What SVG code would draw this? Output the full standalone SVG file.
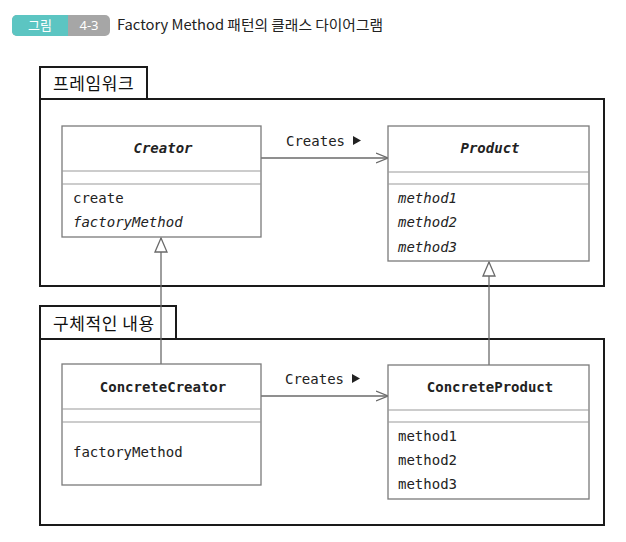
<svg xmlns="http://www.w3.org/2000/svg" width="626" height="542" viewBox="0 0 626 542">
<style>
.pkg{fill:none;stroke:#1a1a1a;stroke-width:2}
.cls{fill:#fff;stroke:#7a7a7a;stroke-width:1.3}
.sep{stroke:#9a9a9a;stroke-width:1.2}
.mono{font-family:"DejaVu Sans Mono",monospace;font-size:14px;fill:#222}
.name{font-weight:bold;text-anchor:middle}
.it{font-style:italic}
.kr{font-family:"Noto Sans CJK KR","Noto Sans",sans-serif;font-size:17px;fill:#111;letter-spacing:0.6px}
.conn{fill:none;stroke:#6a6a6a;stroke-width:1.3}
</style>
<defs>
<marker id="open" viewBox="0 0 12 12" refX="12" refY="6" markerWidth="12" markerHeight="12" markerUnits="userSpaceOnUse" orient="auto">
<path d="M0,1 L12,6 L0,11" fill="none" stroke="#6a6a6a" stroke-width="1.3"/>
</marker>
<marker id="tri" viewBox="0 0 16 14" refX="15" refY="7" markerWidth="16" markerHeight="14" markerUnits="userSpaceOnUse" orient="auto">
<path d="M1,1 L15,7 L1,13 Z" fill="#fff" stroke="#6a6a6a" stroke-width="1.3"/>
</marker>
</defs>
<rect width="626" height="542" fill="#fff"/>
<g id="header">
<rect x="12" y="15" width="98" height="21" rx="5" fill="#a6a6a6"/>
<path d="M17,15 H68 V36 H17 A5,5 0 0 1 12,31 V20 A5,5 0 0 1 17,15 Z" fill="#5cc5c2"/>
<text x="40" y="30" font-family="Noto Sans CJK KR,sans-serif" font-size="13" fill="#fff" text-anchor="middle">그림</text>
<text x="89" y="30" font-family="Noto Sans,sans-serif" font-size="13" fill="#fff" text-anchor="middle">4-3</text>
<text x="117" y="30" font-family="Noto Sans CJK KR,sans-serif" font-size="14" fill="#222" textLength="266" lengthAdjust="spacingAndGlyphs">Factory Method 패턴의 클래스 다이어그램</text>
</g>
<g id="pkg-framework">
<rect class="pkg" x="40" y="67" width="107" height="32"/>
<rect class="pkg" x="40" y="99" width="564" height="187"/>
<text class="kr" x="53" y="90">프레임워크</text>
</g>
<g id="pkg-concrete">
<rect class="pkg" x="40" y="306" width="136" height="33"/>
<rect class="pkg" x="40" y="339" width="564" height="186"/>
<text class="kr" x="53" y="330">구체적인 내용</text>
</g>
<g id="connectors">
<line class="conn" x1="261" y1="158" x2="388" y2="158" marker-end="url(#open)"/>
<line class="conn" x1="261" y1="396" x2="388" y2="396" marker-end="url(#open)"/>
<line class="conn" x1="161" y1="364" x2="161" y2="238" marker-end="url(#tri)"/>
<line class="conn" x1="489" y1="365" x2="489" y2="262" marker-end="url(#tri)"/>
<text class="mono" x="286" y="146">Creates</text>
<path d="M353,136 L361,140.5 L353,145 Z" fill="#222"/>
<text class="mono" x="285" y="384">Creates</text>
<path d="M352,374 L360,378.5 L352,383 Z" fill="#222"/>
</g>
<g id="creator">
<rect class="cls" x="62" y="126" width="199" height="111"/>
<line class="sep" x1="62" y1="171" x2="261" y2="171"/>
<line class="sep" x1="62" y1="184" x2="261" y2="184"/>
<text class="mono name it" x="163" y="153">Creator</text>
<text class="mono" x="73" y="203">create</text>
<text class="mono it" x="73" y="227">factoryMethod</text>
</g>
<g id="product">
<rect class="cls" x="388" y="126" width="201" height="135"/>
<line class="sep" x1="388" y1="172" x2="589" y2="172"/>
<line class="sep" x1="388" y1="184" x2="589" y2="184"/>
<text class="mono name it" x="490" y="153">Product</text>
<text class="mono it" x="398" y="203">method1</text>
<text class="mono it" x="398" y="227">method2</text>
<text class="mono it" x="398" y="252">method3</text>
</g>
<g id="concrete-creator">
<rect class="cls" x="62" y="364" width="199" height="121"/>
<line class="sep" x1="62" y1="409" x2="261" y2="409"/>
<line class="sep" x1="62" y1="422" x2="261" y2="422"/>
<text class="mono name" x="163" y="392">ConcreteCreator</text>
<text class="mono" x="73" y="457">factoryMethod</text>
</g>
<g id="concrete-product">
<rect class="cls" x="388" y="365" width="201" height="134"/>
<line class="sep" x1="388" y1="410" x2="589" y2="410"/>
<line class="sep" x1="388" y1="422" x2="589" y2="422"/>
<text class="mono name" x="490" y="392">ConcreteProduct</text>
<text class="mono" x="398" y="441">method1</text>
<text class="mono" x="398" y="465">method2</text>
<text class="mono" x="398" y="489">method3</text>
</g>
</svg>
